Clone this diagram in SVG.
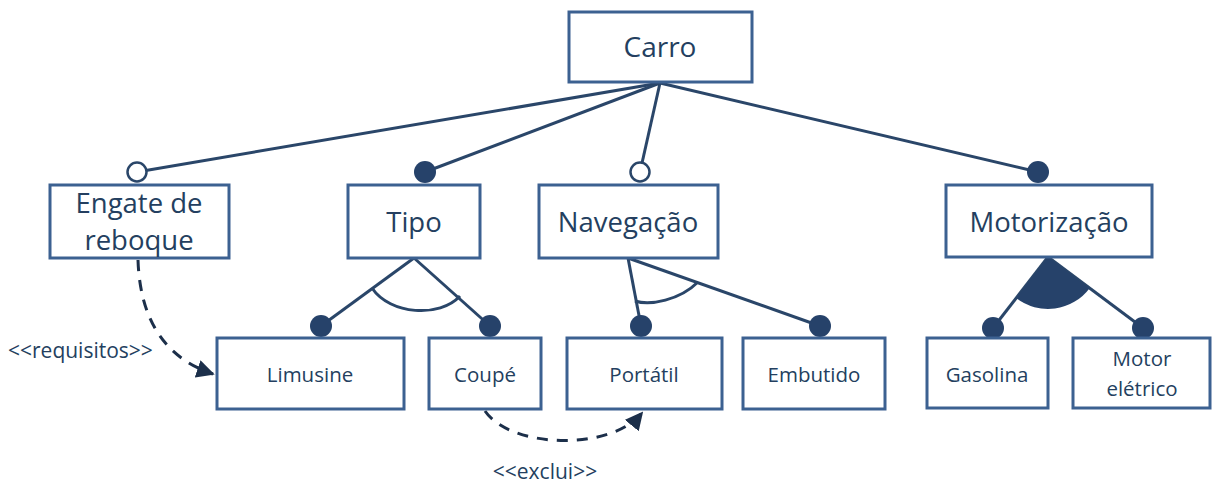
<svg xmlns="http://www.w3.org/2000/svg" width="1212" height="483" viewBox="0 0 1212 483">
<style>
.box{fill:#fff;stroke:#3c6191;stroke-width:3}
.ln{fill:none;stroke:#2a4669;stroke-width:3}
.arc{fill:none;stroke:#2a4669;stroke-width:3}
.dot{fill:#26426a}
.open{fill:#fff;stroke:#2a4669;stroke-width:2.5}
.dash{fill:none;stroke:#1c2f4a;stroke-width:3;stroke-dasharray:11 9}
.t{font-family:"Open Sans","Noto Sans",sans-serif;fill:#243f60;text-anchor:middle}
.big{font-size:27.5px}
.sm{font-size:20.5px}
.lbl{font-family:"Open Sans","Noto Sans",sans-serif;fill:#243f60;font-size:21px}
</style>
<defs>
<marker id="ah" viewBox="0 0 10 10" refX="9" refY="5" markerWidth="6" markerHeight="6" orient="auto" markerUnits="strokeWidth">
<path d="M0,0 L10,5 L0,10 Z" fill="#1c2f4a"/>
</marker>
</defs>
<g id="connectors">
<line class="ln" x1="660" y1="83" x2="137" y2="172"/>
<line class="ln" x1="660" y1="83" x2="425" y2="172"/>
<line class="ln" x1="660" y1="83" x2="640" y2="172"/>
<line class="ln" x1="660" y1="83" x2="1038" y2="172"/>
<line class="ln" x1="414" y1="258" x2="321" y2="326"/>
<line class="ln" x1="414" y1="258" x2="490" y2="326"/>
<path class="arc" d="M372,288 C390,315 440,318 460,296"/>
<line class="ln" x1="628" y1="258" x2="641" y2="326"/>
<line class="ln" x1="628" y1="258" x2="820" y2="326"/>
<path class="arc" d="M635,301 C650,306 680,300 698,282"/>
<line class="ln" x1="1048" y1="257" x2="993" y2="328"/>
<line class="ln" x1="1048" y1="257" x2="1143" y2="328"/>
<path class="dot" d="M1048,257 L1016.1,298.1 A52,52 0 0 0 1089.6,288.2 Z"/>
<circle class="open" cx="137" cy="172" r="9.5"/>
<circle class="dot" cx="425" cy="172" r="11"/>
<circle class="open" cx="640" cy="172" r="9.5"/>
<circle class="dot" cx="1038" cy="172" r="11"/>
<circle class="dot" cx="321" cy="326" r="11"/>
<circle class="dot" cx="490" cy="326" r="11"/>
<circle class="dot" cx="641" cy="326" r="11"/>
<circle class="dot" cx="820" cy="326" r="11"/>
<circle class="dot" cx="993" cy="328" r="11"/>
<circle class="dot" cx="1143" cy="328" r="11"/>
<path class="dash" d="M138,260 C140,320 165,358 213,374" marker-end="url(#ah)"/>
<path class="dash" d="M485,411 C510,448 610,452 642,413" marker-end="url(#ah)"/>
<text class="lbl" x="8" y="358">&lt;&lt;requisitos&gt;&gt;</text>
<text class="lbl" x="545" y="479" style="text-anchor:middle">&lt;&lt;exclui&gt;&gt;</text>
</g>
<g id="carro"><rect class="box" x="569" y="12" width="183" height="70"/><text class="t" x="660" y="57" style="font-size:28px">Carro</text></g>
<g id="engate"><rect class="box" x="50" y="185" width="179" height="73"/><text class="t big" x="139" y="213">Engate de</text><text class="t big" x="139" y="250">reboque</text></g>
<g id="tipo"><rect class="box" x="348" y="185" width="132" height="73"/><text class="t big" x="414" y="232">Tipo</text></g>
<g id="navegacao"><rect class="box" x="539" y="185" width="179" height="73"/><text class="t big" x="628" y="232">Navegação</text></g>
<g id="motorizacao"><rect class="box" x="946" y="185" width="206" height="72"/><text class="t big" x="1049" y="232">Motorização</text></g>
<g id="limusine"><rect class="box" x="217" y="338" width="187" height="71"/><text class="t sm" x="310" y="382">Limusine</text></g>
<g id="coupe"><rect class="box" x="429" y="338" width="112" height="71"/><text class="t sm" x="485" y="382">Coupé</text></g>
<g id="portatil"><rect class="box" x="567" y="338" width="155" height="71"/><text class="t sm" x="644" y="382">Portátil</text></g>
<g id="embutido"><rect class="box" x="743" y="338" width="142" height="71"/><text class="t sm" x="814" y="382">Embutido</text></g>
<g id="gasolina"><rect class="box" x="927" y="338" width="121" height="70"/><text class="t sm" x="987" y="382">Gasolina</text></g>
<g id="motor-eletrico"><rect class="box" x="1073" y="338" width="137" height="70"/><text class="t sm" x="1142" y="366">Motor</text><text class="t sm" x="1142" y="396">elétrico</text></g>
</svg>
